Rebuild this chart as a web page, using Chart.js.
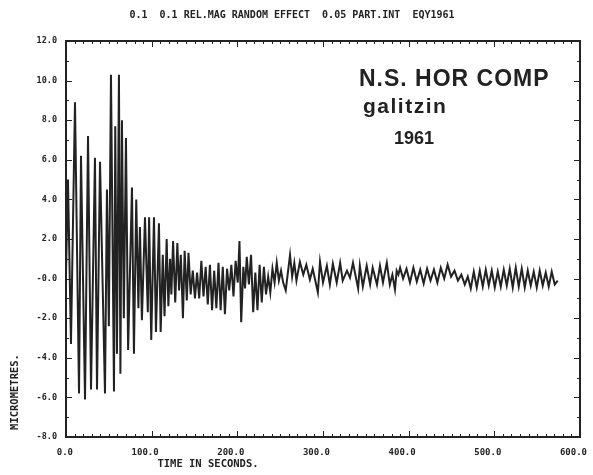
<!DOCTYPE html>
<html>
<head>
<meta charset="utf-8">
<script src="https://cdn.jsdelivr.net/npm/chart.js@4.4.1/dist/chart.umd.min.js"></script>
<style>
  html, body { margin: 0; padding: 0; background: #fff; }
  #wrap { width: 593px; height: 475px; }
</style>
</head>
<body>
<div id="wrap"><canvas id="seis"></canvas></div>
<script>
// seismogram, N-S horizontal component (galitzin 1961)

const TITLE      = "0.1  0.1 REL.MAG RANDOM EFFECT  0.05 PART.INT  EQY1961";
const NOTE_LINES = ["N.S. HOR COMP", "galitzin", "1961"];
const X_TITLE    = "TIME IN SECONDS.";
const Y_TITLE    = "MICROMETRES.";

const X_TICKS       = [0, 100, 200, 300, 400, 500, 600];
const X_TICK_LABELS = ["0.0", "100.0", "200.0", "300.0", "400.0", "500.0", "600.0"];
const Y_TICKS       = [-8, -6, -4, -2, 0, 2, 4, 6, 8, 10, 12];
const Y_TICK_LABELS = ["-8.0", "-6.0", "-4.0", "-2.0", "-0.0", "2.0", "4.0", "6.0", "8.0", "10.0", "12.0"];

// turning points of the trace (seconds / micrometres)
const traceTimes = [
  0, 2.3, 5.8, 10.5, 15.2, 17.5, 22.2, 25.7, 29.2, 33.8,
  36.2, 39.7, 45.5, 47.8, 50, 52.5, 56, 57.5, 59.5, 61.8,
  63.5, 65.3, 67.5, 70, 72.5, 77, 79.3, 82, 84.5, 86.3,
  88.6, 92.2, 95.5, 97, 99.5, 102.7, 105, 108.5, 110.5,
  113, 115, 117.5, 119.5, 121.5, 123, 125, 127.5, 130, 132,
  134, 136.5, 138.5, 141, 143, 145.5, 148, 150.5, 153, 155.5,
  158, 160.5, 163, 165.5, 168, 170.5, 173, 175.5, 178, 180.5,
  183, 185.5, 188, 190.5, 193, 195.5, 198, 200.5, 202.5, 204.5,
  207, 209, 211, 213.5, 216, 218.5, 221, 223.5, 226, 228.5,
  231, 233.5, 236, 238.5, 241, 243.5, 246, 248.5, 251, 253.5,
  256.5, 259, 261.5, 264, 266.5, 269,
  273, 277, 280.5, 284.7, 288, 294, 296.5, 300, 304.5, 308,
  311.5, 316, 320, 323, 328, 331.5, 335, 341, 343, 346.5,
  351, 355, 358, 363, 366.5, 370, 374.5, 378, 381, 384,
  386, 388, 390, 393.5, 397.5, 401.5, 405.5, 409.5, 413.5, 417.5,
  421.5, 425.5, 429.5, 433.5, 437.5, 441.5, 445.5, 449.5, 453.5, 457.5,
  461.5, 465.5, 469, 472.5, 476, 479.5, 483, 486.5, 490, 493.5,
  497, 500.5, 504, 507.5, 511, 514.5, 518, 521.5, 525, 528.5,
  532, 535.5, 539, 542.5, 546, 549.5, 553, 556.5, 560, 563.5,
  567, 570.5, 574,
];
const traceAmps = [
  0.2, 5.0, -3.3, 8.9, -5.8, 6.2, -6.1, 7.2, -5.6, 6.1,
  -5.6, 5.9, -5.8, 4.5, -2.4, 10.3, -5.7, 7.7, -3.8, 10.3,
  -4.8, 8.0, -2.0, 7.1, -3.6, 4.6, -3.8, 4.0, -1.5, 2.6,
  -2.1, 3.1, -1.7, 3.1, -3.1, 3.1, -2.7, 2.8, -2.7,
  1.2, -1.9, 2.0, -1.4, 1.0, -0.8, 1.9, -1.2, 1.8, -0.6,
  1.2, -2.0, 1.4, -1.1, 1.3, -0.8, 0.4, -1.0, 0.3, -1.0,
  0.9, -0.9, 0.6, -1.3, 0.7, -1.6, 0.4, -1.5, 0.8, -1.6,
  0.6, -1.8, 0.5, -0.6, 0.7, -0.9, 0.9, -0.2, 1.9, -2.2,
  0.6, -0.5, 1.1, -0.3, 1.2, -1.7, 0.3, -1.6, 0.7, -1.2,
  0.6, -0.8, 0.1, -0.7, 0.5, -0.2, 0.8, -0.1, 0.4, -0.2,
  -0.6, 0.3, 1.2, 0.1, 0.8, -0.1,
  0.85, 0.2, 0.7, -0.05, 0.5, -0.7, 0.85, -0.2, 0.65, -0.3,
  0.75, -0.2, 0.8, -0.1, 0.4, 0.05, 0.8, -0.5, 0.65, -0.4,
  0.65, -0.3, 0.55, -0.3, 0.65, -0.2, 0.8, -0.3, 0.2, -0.55,
  0.4, 0.2, 0.55, 0.0, 0.5, -0.2, 0.55, -0.15, 0.45, -0.25,
  0.5, -0.1, 0.45, -0.2, 0.55, 0.0, 0.7, 0.1, 0.4, -0.1,
  0.2, -0.3, 0.1, -0.5, 0.35, -0.45, 0.4, -0.4, 0.45, -0.35,
  0.4, -0.45, 0.35, -0.4, 0.45, -0.35, 0.5, -0.45, 0.55, -0.4,
  0.5, -0.45, 0.4, -0.35, 0.35, -0.45, 0.4, -0.35, 0.3, -0.4,
  0.35, -0.3, -0.1,
];

const INK  = "#222222";
const MONO = "'DejaVu Sans Mono', monospace";
const HELV = "'Liberation Sans', Arial, sans-serif";

// frame, inward ticks and the free text of the plotter sheet
const sheetPlugin = {
  id: "sheet",
  afterDatasetsDraw(chart) {
    const { ctx, chartArea: a, scales: { x, y } } = chart;
    ctx.save();
    ctx.strokeStyle = INK;
    ctx.fillStyle = INK;

    ctx.lineWidth = 2;
    ctx.strokeRect(a.left, a.top, a.right - a.left, a.bottom - a.top);

    ctx.lineWidth = 1;
    ctx.beginPath();
    for (let v = 0; v <= 600; v += 10) {
      const px = Math.round(x.getPixelForValue(v)) + 0.5;
      const len = v % 100 === 0 ? 6 : 3;
      ctx.moveTo(px, a.bottom); ctx.lineTo(px, a.bottom - len);
      ctx.moveTo(px, a.top);    ctx.lineTo(px, a.top + len);
    }
    for (let v = -8; v <= 12; v += 1) {
      const py = Math.round(y.getPixelForValue(v)) + 0.5;
      const len = v % 2 === 0 ? 6 : 3;
      ctx.moveTo(a.left, py);  ctx.lineTo(a.left + len, py);
      ctx.moveTo(a.right, py); ctx.lineTo(a.right - len, py);
    }
    ctx.stroke();

    // title
    ctx.font = "bold 10px " + MONO;
    ctx.textAlign = "center";
    ctx.textBaseline = "middle";
    ctx.fillText(TITLE, 292, 15);

    // axis titles
    ctx.font = "bold 10.5px " + MONO;
    ctx.fillText(X_TITLE, 208, 464);
    ctx.save();
    ctx.translate(15, 392);
    ctx.rotate(-Math.PI / 2);
    ctx.fillText(Y_TITLE, 0, 0);
    ctx.restore();

    // note in the upper right
    ctx.textAlign = "left";
    ctx.textBaseline = "alphabetic";
    ctx.font = "bold 23px " + HELV;
    ctx.letterSpacing = "1px";
    ctx.fillText(NOTE_LINES[0], 359, 86);
    ctx.font = "bold 21px " + HELV;
    ctx.letterSpacing = "1.5px";
    ctx.fillText(NOTE_LINES[1], 363, 113);
    ctx.font = "bold 18px " + HELV;
    ctx.letterSpacing = "0px";
    ctx.fillText(NOTE_LINES[2], 394, 144);

    ctx.restore();
  },
};

new Chart(document.getElementById("seis"), {
  type: "line",
  data: {
    datasets: [{
      data: traceTimes.map((t, i) => ({ x: t, y: traceAmps[i] })),
      borderColor: INK,
      borderWidth: 2,
      pointRadius: 0,
      tension: 0,
      fill: false,
    }],
  },
  options: {
    responsive: true,
    maintainAspectRatio: false,
    animation: false,
    layout: { padding: { top: 41, right: 13, left: 0, bottom: 0 } },
    plugins: {
      legend: { display: false },
      tooltip: { enabled: false },
    },
    scales: {
      x: {
        type: "linear",
        min: 0,
        max: 600,
        grid: { display: false, drawTicks: false },
        border: { display: false },
        afterBuildTicks: s => { s.ticks = X_TICKS.map(v => ({ value: v })); },
        afterFit: s => { s.height = 38; },
        ticks: {
          color: INK,
          font: { family: "DejaVu Sans Mono", size: 9, weight: "bold" },
          padding: 10,
          maxRotation: 0,
          align: "end",
          labelOffset: 7,
          callback: (v, i) => X_TICK_LABELS[i],
        },
      },
      y: {
        type: "linear",
        min: -8,
        max: 12,
        grid: { display: false, drawTicks: false },
        border: { display: false },
        afterBuildTicks: s => { s.ticks = Y_TICKS.map(v => ({ value: v })); },
        afterFit: s => { s.width = 66; },
        ticks: {
          color: INK,
          font: { family: "DejaVu Sans Mono", size: 8.5, weight: "bold" },
          padding: 9,
          callback: (v, i) => Y_TICK_LABELS[i],
        },
      },
    },
  },
  plugins: [sheetPlugin],
});
</script>
</body>
</html>
